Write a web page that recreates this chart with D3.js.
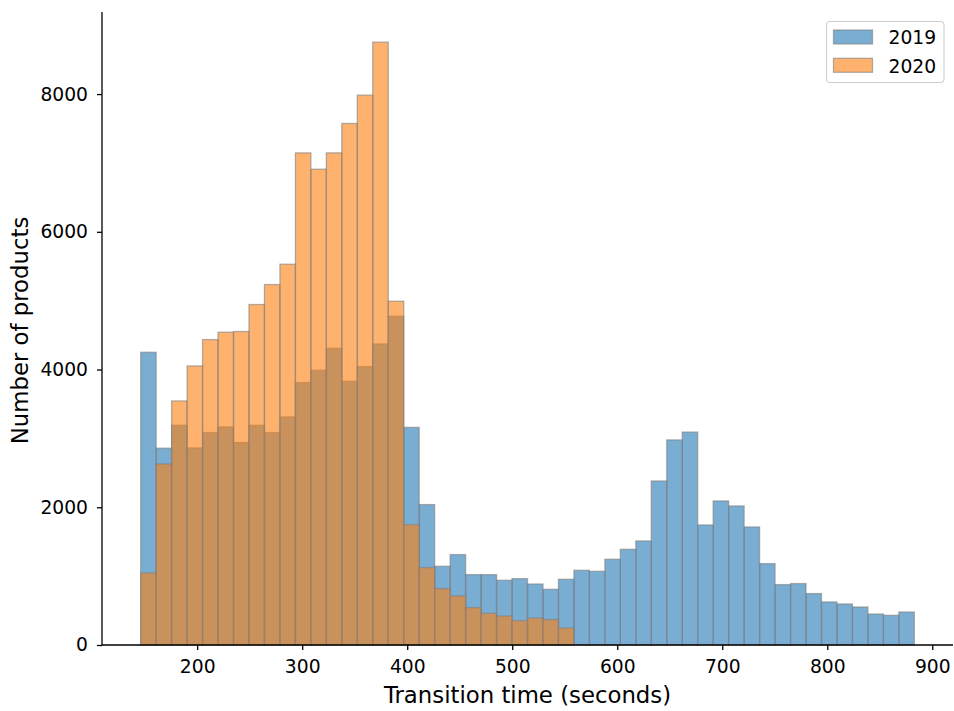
<!DOCTYPE html>
<html>
<head>
<meta charset="utf-8">
<script src="https://cdn.jsdelivr.net/npm/d3@7"></script>
<style>
  html, body { margin: 0; padding: 0; background: #fff; }
  svg { display: block; font-family: "DejaVu Sans", sans-serif; }
</style>
</head>
<body>
<svg id="chart" width="954" height="711"></svg>
<script>
// Histogram bin edges (seconds): 50 equal-width bins shared by both years
const binStart = 146.2;
const binEnd = 882.9;
const binCount = 50;

// Counts per bin
const counts2019 = [
  4251, 2858, 3191, 2862, 3085, 3167, 2940, 3191, 3085, 3312,
  3811, 3990, 4309, 3830, 4043, 4372, 4774, 3160, 2039, 1143,
  1313, 1022, 1022, 940, 964, 886, 809, 954, 1085, 1070,
  1245, 1390, 1511, 2382, 2978, 3092, 1743, 2092, 2019, 1714,
  1182, 877, 892, 747, 625, 596, 552, 450, 431, 479
];
const counts2020 = [
  1046, 2629, 3544, 4052, 4435, 4542, 4552, 4944, 5234, 5529,
  7146, 6909, 7146, 7573, 7984, 8754, 4992, 1748, 1124, 819,
  712, 543, 460, 421, 354, 392, 369, 247, 0, 0,
  0, 0, 0, 0, 0, 0, 0, 0, 0, 0,
  0, 0, 0, 0, 0, 0, 0, 0, 0, 0
];

const seriesNames = ["2019", "2020"];
const seriesColors = ["#1f77b4", "#ff7f0e"];
const xTicks = [200, 300, 400, 500, 600, 700, 800, 900];
const yTicks = [0, 2000, 4000, 6000, 8000];
const xTitle = "Transition time (seconds)";
const yTitle = "Number of products";

const svg = d3.select("#chart");
const margin = { left: 102, right: 1, top: 12, bottom: 66 };
const W = 954, H = 711;
const plotW = W - margin.left - margin.right;
const plotH = H - margin.top - margin.bottom;

const binW = (binEnd - binStart) / binCount;
const edges = d3.range(binCount + 1).map(i => binStart + i * binW);
const pad = (binEnd - binStart) * 0.05;
const yMax = d3.max(counts2019.concat(counts2020)) * 1.05;

const x = d3.scaleLinear().domain([binStart - pad, binEnd + pad]).range([0, plotW]);
const y = d3.scaleLinear().domain([0, yMax]).range([plotH, 0]);

const g = svg.append("g").attr("transform", `translate(${margin.left},${margin.top})`);

// Bars: 2019 first, 2020 drawn over it
[counts2019, counts2020].forEach((vals, si) => {
  g.append("g")
    .selectAll("rect")
    .data(vals.map((v, i) => ({ v, x0: edges[i], x1: edges[i + 1] })).filter(d => d.v > 0))
    .join("rect")
    .attr("x", d => x(d.x0))
    .attr("width", d => x(d.x1) - x(d.x0))
    .attr("y", d => y(d.v))
    .attr("height", d => y(0) - y(d.v))
    .attr("fill", seriesColors[si])
    .attr("fill-opacity", 0.6)
    .attr("stroke", "grey")
    .attr("stroke-opacity", 0.6)
    .attr("stroke-width", 1.3);
});

// Axes
const fontTick = 18.7;
const xAxis = g.append("g")
  .attr("transform", `translate(0,${plotH})`)
  .call(d3.axisBottom(x).tickValues(xTicks).tickSize(5).tickPadding(10).tickFormat(d3.format("d")));
const yAxis = g.append("g")
  .call(d3.axisLeft(y).tickValues(yTicks).tickSize(5).tickPadding(9).tickFormat(d3.format("d")));

[xAxis, yAxis].forEach(a => {
  a.select(".domain").attr("stroke", "#000").attr("stroke-width", 1.3);
  a.selectAll(".tick line").attr("stroke", "#000").attr("stroke-width", 1.3);
  a.selectAll(".tick text")
    .attr("fill", "#000")
    .style("font-size", fontTick + "px")
    .style("font-family", "DejaVu Sans");
});
// The domain path from d3 includes outer ticks; redraw as plain spines
xAxis.select(".domain").attr("d", `M0,0H${plotW}`);
yAxis.select(".domain").attr("d", `M0,${plotH}V0`);

// Axis titles
svg.append("text")
  .attr("x", margin.left + plotW / 2)
  .attr("y", 703)
  .attr("text-anchor", "middle")
  .style("font-size", "22.8px")
  .attr("fill", "#000")
  .text(xTitle);

svg.append("text")
  .attr("transform", `translate(27.5,${margin.top + plotH / 2 + 2}) rotate(-90)`)
  .attr("text-anchor", "middle")
  .style("font-size", "22.8px")
  .attr("fill", "#000")
  .text(yTitle);

// Legend
const legend = svg.append("g").attr("transform", "translate(826.5,21.5)");
legend.append("rect")
  .attr("width", 117.5).attr("height", 61)
  .attr("rx", 3).attr("ry", 3)
  .attr("fill", "#fff").attr("fill-opacity", 0.8)
  .attr("stroke", "#cccccc").attr("stroke-width", 1);
seriesNames.forEach((name, i) => {
  const row = legend.append("g").attr("transform", `translate(0,${i * 28.3})`);
  row.append("rect")
    .attr("x", 7).attr("y", 8.5)
    .attr("width", 39).attr("height", 14)
    .attr("fill", seriesColors[i]).attr("fill-opacity", 0.6)
    .attr("stroke", "grey").attr("stroke-opacity", 0.6).attr("stroke-width", 1.3);
  row.append("text")
    .attr("x", 62).attr("y", 22.8)
    .style("font-size", fontTick + "px")
    .attr("fill", "#000")
    .text(name);
});
</script>
</body>
</html>
